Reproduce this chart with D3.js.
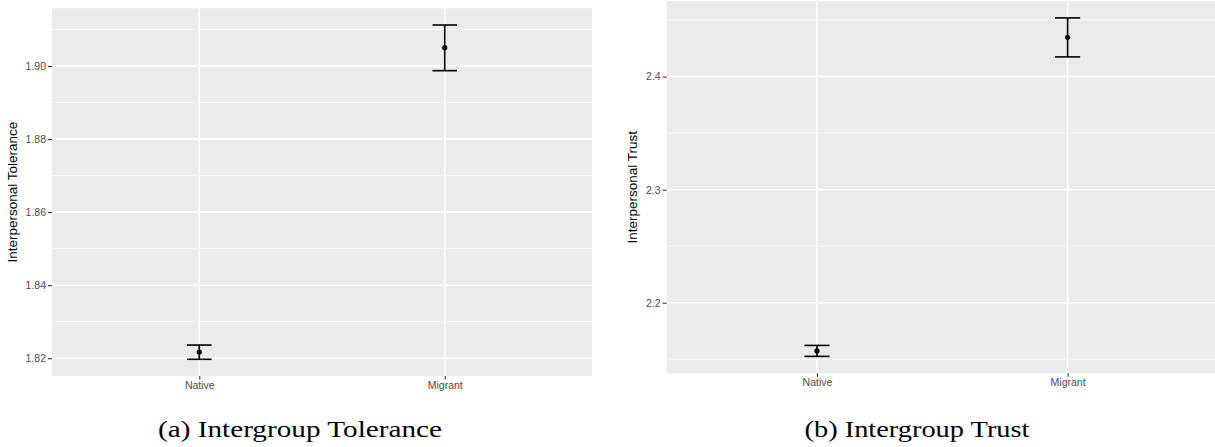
<!DOCTYPE html>
<html>
<head>
<meta charset="utf-8">
<script src="https://cdn.jsdelivr.net/npm/d3@7"></script>
<style>
  body { margin: 0; background: #fff; }
  svg { display: block; }
</style>
</head>
<body>
<svg id="chart" width="1215" height="447"></svg>
<script>
// group labels, shared by both panels
const groups = ['Native', 'Migrant']

// panel (a): interpersonal tolerance, mean with CI
const toleranceMean = [1.8217, 1.9050]
const toleranceLower = [1.8197, 1.8987]
const toleranceUpper = [1.8236, 1.9112]
const toleranceTicks = [1.82, 1.84, 1.86, 1.88, 1.90]

// panel (b): interpersonal trust, mean with CI
const trustMean = [2.1573, 2.4348]
const trustLower = [2.1525, 2.4174]
const trustUpper = [2.1622, 2.4519]
const trustTicks = [2.2, 2.3, 2.4]

const svg = d3.select('#chart')

/**
 * Draws one ggplot-like panel with error bars
 */
function drawPanel (cfg) {
  const { left, right, top, bottom, mean, lower, upper, ticks, fmt, title, titleX, caption, captionX, captionLen } = cfg
  const g = svg.append('g')

  // x: discrete scale with ggplot's 0.6 expansion on each side
  const xScale = d3.scaleLinear().domain([0.4, 2.6]).range([left, right])
  const xPos = (d, i) => xScale(i + 1)

  // y: continuous with 5% expansion
  const lo = d3.min(lower)
  const hi = d3.max(upper)
  const pad = (hi - lo) * 0.05
  const yScale = d3.scaleLinear().domain([lo - pad, hi + pad]).range([bottom, top])

  g.append('rect')
    .attr('x', left).attr('y', top)
    .attr('width', right - left).attr('height', bottom - top)
    .attr('fill', '#ebebeb')

  // minor grid at midpoints between major ticks (and one step beyond)
  const step = ticks[1] - ticks[0]
  const minor = []
  ticks.forEach(t => { minor.push(t - step / 2); minor.push(t + step / 2) })
  const minorUnique = Array.from(new Set(minor.map(m => +m.toFixed(4))))
    .filter(m => m > yScale.domain()[0] && m < yScale.domain()[1])

  g.selectAll('.minor').data(minorUnique).enter().append('line')
    .attr('x1', left).attr('x2', right)
    .attr('y1', d => yScale(d)).attr('y2', d => yScale(d))
    .attr('stroke', '#fff').attr('stroke-width', 0.7)

  g.selectAll('.major').data(ticks).enter().append('line')
    .attr('x1', left).attr('x2', right)
    .attr('y1', d => yScale(d)).attr('y2', d => yScale(d))
    .attr('stroke', '#fff').attr('stroke-width', 1.5)

  g.selectAll('.vgrid').data(groups).enter().append('line')
    .attr('x1', xPos).attr('x2', xPos)
    .attr('y1', top).attr('y2', bottom)
    .attr('stroke', '#fff').attr('stroke-width', 1.5)

  // y axis
  const yAxis = g.append('g')
    .attr('transform', `translate(${left},0)`)
    .call(d3.axisLeft(yScale).tickValues(ticks).tickFormat(fmt).tickSize(4).tickPadding(2))
  yAxis.select('.domain').remove()
  yAxis.selectAll('line').attr('stroke', '#333').attr('stroke-width', 1.1)
  yAxis.selectAll('text')
    .attr('fill', '#4d4d4d')
    .style('font-family', '"Liberation Sans", Arial, sans-serif')
    .style('font-size', '10.5px')

  // x axis
  const xAxis = g.append('g')
    .attr('transform', `translate(0,${bottom})`)
    .call(d3.axisBottom(xScale).tickValues([1, 2]).tickFormat(d => groups[d - 1]).tickSize(3.5).tickPadding(2))
  xAxis.select('.domain').remove()
  xAxis.selectAll('line').attr('stroke', '#333').attr('stroke-width', 1.1)
  xAxis.selectAll('text')
    .attr('fill', '#4d4d4d')
    .style('font-family', '"Liberation Sans", Arial, sans-serif')
    .style('font-size', '10.5px')

  // error bars
  const halfW = (xScale(1.05) - xScale(0.95)) / 2
  const bars = g.selectAll('.bar').data(groups).enter().append('g')
  bars.append('line')
    .attr('x1', xPos).attr('x2', xPos)
    .attr('y1', (d, i) => yScale(upper[i])).attr('y2', (d, i) => yScale(lower[i]))
    .attr('stroke', '#000').attr('stroke-width', 1.6)
  bars.append('line')
    .attr('x1', (d, i) => xPos(d, i) - halfW).attr('x2', (d, i) => xPos(d, i) + halfW)
    .attr('y1', (d, i) => yScale(upper[i])).attr('y2', (d, i) => yScale(upper[i]))
    .attr('stroke', '#000').attr('stroke-width', 1.6)
  bars.append('line')
    .attr('x1', (d, i) => xPos(d, i) - halfW).attr('x2', (d, i) => xPos(d, i) + halfW)
    .attr('y1', (d, i) => yScale(lower[i])).attr('y2', (d, i) => yScale(lower[i]))
    .attr('stroke', '#000').attr('stroke-width', 1.6)
  bars.append('circle')
    .attr('cx', xPos).attr('cy', (d, i) => yScale(mean[i]))
    .attr('r', 2.6).attr('fill', '#000')

  // y title
  g.append('text')
    .attr('transform', `translate(${titleX},${(top + bottom) / 2}) rotate(-90)`)
    .attr('text-anchor', 'middle')
    .attr('dy', '0.35em')
    .style('font-family', '"Liberation Sans", Arial, sans-serif')
    .style('font-size', '13.5px')
    .text(title)

  // subfigure caption
  svg.append('text')
    .attr('x', captionX).attr('y', 437)
    .attr('text-anchor', 'middle')
    .attr('textLength', captionLen)
    .attr('lengthAdjust', 'spacingAndGlyphs')
    .style('font-family', '"Liberation Serif", "Times New Roman", serif')
    .style('font-size', '23px')
    .text(caption)
}

drawPanel({
  left: 52, right: 592, top: 8.3, bottom: 376,
  mean: toleranceMean, lower: toleranceLower, upper: toleranceUpper,
  ticks: toleranceTicks, fmt: d3.format('.2f'),
  title: 'Interpersonal Tolerance', titleX: 12,
  caption: '(a) Intergroup Tolerance', captionX: 300, captionLen: 284
})

drawPanel({
  left: 666.6, right: 1218, top: 1, bottom: 373.3,
  mean: trustMean, lower: trustLower, upper: trustUpper,
  ticks: trustTicks, fmt: d3.format('.1f'),
  title: 'Interpersonal Trust', titleX: 632,
  caption: '(b) Intergroup Trust', captionX: 917, captionLen: 225
})
</script>
</body>
</html>
